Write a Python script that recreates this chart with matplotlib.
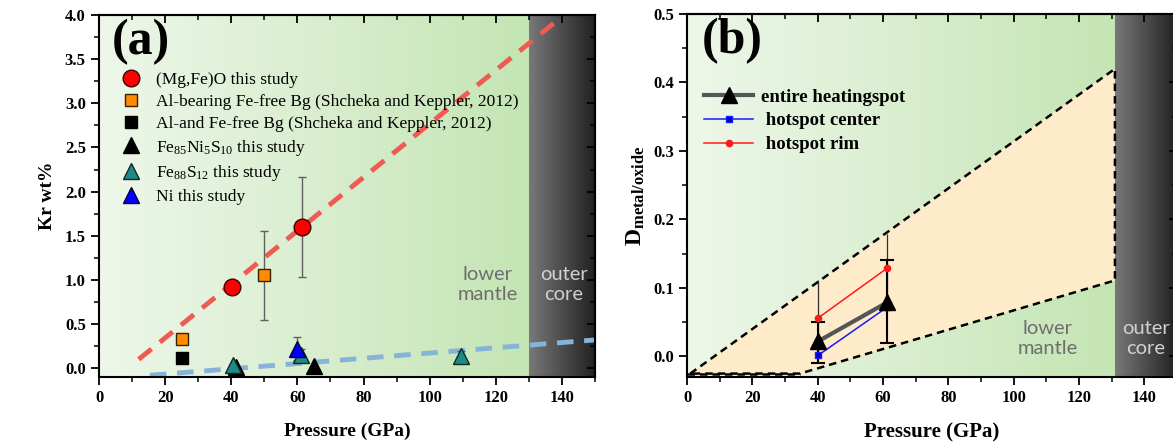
import matplotlib.pyplot as plt
import numpy as np
from matplotlib.lines import Line2D

plt.rcParams['font.family'] = ['Liberation Serif', 'DejaVu Serif']
plt.rcParams['mathtext.fontset'] = 'custom'
plt.rcParams['mathtext.rm'] = 'Liberation Serif'
plt.rcParams['mathtext.it'] = 'Liberation Serif:italic'
plt.rcParams['mathtext.bf'] = 'Liberation Serif:bold'

# ===== panel (a) data =====
mgfeo_p = [40.2, 61.4]
mgfeo_kr = [0.92, 1.60]
mgfeo_err_lo = [0.0, 0.57]
mgfeo_err_hi = [0.0, 0.56]

albg_p = [25, 50]
albg_kr = [0.33, 1.05]
albg_err = [0.0, 0.50]

alfefree_p = [25]
alfefree_kr = [0.11]

fenis_p = [41.4, 65]
fenis_kr = [0.01, 0.02]

fes_p = [40.5, 61, 109.5]
fes_kr = [0.04, 0.15, 0.14]
fes_err = [0.0, 0.07, 0.06]

ni_p = [60]
ni_kr = [0.22]
ni_err = [0.13]

red_fit_p = [12, 138]
red_fit_kr = [0.10, 3.92]
blue_fit_p = [15.4, 150]
blue_fit_kr = [-0.08, 0.32]

# ===== panel (b) data =====
run_p = [40.1, 61.3]
entire_d = [0.022, 0.079]
entire_lo = [0.031, 0.060]
entire_hi = [0.028, 0.062]
center_d = [0.0015, 0.072]
rim_d = [0.056, 0.129]
rim_err = [0.055, 0.050]

band_p = [1, 131, 131, 34.6]
band_d = [-0.025, 0.420, 0.111, -0.025]
band_floor_p = [0, 34.6]
band_floor_d = [-0.025, -0.025]

core_start_a = 130
core_start_b = 131

green_left = np.array([238, 247, 234]) / 255
green_right = np.array([196, 229, 180]) / 255
dark_left = np.array([120, 120, 120]) / 255
dark_right = np.array([32, 32, 32]) / 255


def gradient(ax, x0, x1, y0, y1, c0, c1):
    t = np.linspace(0, 1, 256)
    img = (c0[None, :] * (1 - t[:, None]) + c1[None, :] * t[:, None])[None, :, :]
    ax.imshow(img, extent=[x0, x1, y0, y1], aspect='auto', zorder=0,
              interpolation='bilinear')


def style_axes(ax, xlim, ylim, xmaj, xmin, ymaj, ymin, fmt, xlabsize):
    ax.set_xlim(*xlim)
    ax.set_ylim(*ylim)
    ax.set_xticks(xmaj)
    ax.set_xticks(xmin, minor=True)
    ax.set_yticks(ymaj)
    ax.set_yticks(ymin, minor=True)
    ax.set_yticklabels([fmt.format(v) for v in ymaj])
    for s in ax.spines.values():
        s.set_linewidth(1.5)
    ax.tick_params(which='major', direction='out', length=6, width=1.3,
                   labelsize=12)
    ax.tick_params(which='minor', direction='out', length=3.5, width=1.1)
    for lab in ax.get_xticklabels() + ax.get_yticklabels():
        lab.set_fontweight('bold')
    top = ax.secondary_xaxis('top')
    top.set_xticks(xmaj)
    top.set_xticks(xmin, minor=True)
    top.tick_params(which='major', direction='in', length=6, width=1.3, labeltop=False)
    top.tick_params(which='minor', direction='in', length=3.5, width=1.1)
    right = ax.secondary_yaxis('right')
    right.set_yticks(ymaj)
    right.set_yticks(ymin, minor=True)
    right.tick_params(which='major', direction='in', length=6, width=1.3, labelright=False)
    right.tick_params(which='minor', direction='in', length=3.5, width=1.1)
    for sec in (top, right):
        for s in sec.spines.values():
            s.set_linewidth(1.5)
    ax.set_xlabel('Pressure (GPa)', fontsize=xlabsize, fontweight='bold', labelpad=12)


fig = plt.figure(figsize=(11.73, 4.45), dpi=100)
ax1 = fig.add_axes([99 / 1173, 68 / 445, 496 / 1173, 362 / 445])
ax2 = fig.add_axes([687 / 1173, 68 / 445, 490 / 1173, 363 / 445])

# ===== (a) =====
ya = (-0.1, 4.0)
gradient(ax1, 0, core_start_a, ya[0], ya[1], green_left, green_right)
gradient(ax1, core_start_a, 150, ya[0], ya[1], dark_left, dark_right)

ax1.plot(red_fit_p, red_fit_kr, ls=(0, (3.4, 2.2)), color='#ef5a52', lw=3.5, zorder=2)
ax1.plot(blue_fit_p, blue_fit_kr, ls=(0, (3.4, 2.2)), color='#86b3d8', lw=3.5, zorder=2)

ax1.errorbar(mgfeo_p, mgfeo_kr, yerr=[mgfeo_err_lo, mgfeo_err_hi], fmt='none',
             ecolor='#606060', elinewidth=1, capsize=3, zorder=3)
ax1.errorbar(albg_p, albg_kr, yerr=albg_err, fmt='none',
             ecolor='#606060', elinewidth=1, capsize=3, zorder=3)
ax1.errorbar(fes_p, fes_kr, yerr=fes_err, fmt='none',
             ecolor='#606060', elinewidth=1, capsize=3, zorder=3)
ax1.errorbar(ni_p, ni_kr, yerr=ni_err, fmt='none',
             ecolor='#606060', elinewidth=1, capsize=3, zorder=3)

ax1.plot(mgfeo_p, mgfeo_kr, 'o', ms=12, mfc='#ff0000', mec='#400000', mew=1, zorder=5,
         label='(Mg,Fe)O this study')
ax1.plot(albg_p, albg_kr, 's', ms=8.5, mfc='#ff8c00', mec='#3a2000', mew=1, zorder=5,
         label='Al-bearing Fe-free Bg (Shcheka and Keppler, 2012)')
ax1.plot(alfefree_p, alfefree_kr, 's', ms=8.5, mfc='#000000', mec='#000000', zorder=5,
         label='Al-and Fe-free Bg (Shcheka and Keppler, 2012)')
ax1.plot(fenis_p, fenis_kr, '^', ms=12, mfc='#000000', mec='#000000', zorder=5,
         label=r'Fe$_{85}$Ni$_{5}$S$_{10}$ this study')
ax1.plot(fes_p, fes_kr, '^', ms=12, mfc='#1f8a86', mec='#0a2a28', mew=1, zorder=5,
         label=r'Fe$_{88}$S$_{12}$ this study')
ax1.plot(ni_p, ni_kr, '^', ms=12, mfc='#0000ff', mec='#000040', mew=1, zorder=6,
         label='Ni this study')

ax1.legend(loc='upper left', bbox_to_anchor=(0.015, 0.862), frameon=False,
           fontsize=12.5, handletextpad=0.45, labelspacing=0.33, borderaxespad=0)

ax1.text(0.025, 0.99, '(a)', transform=ax1.transAxes, fontsize=36,
         fontweight='bold', va='top', ha='left')
ax1.text(117.5, 0.95, 'lower\nmantle', ha='center', va='center', fontsize=14.5,
         family='Lato', color='#6e6e6e', linespacing=1.2)
ax1.text(140.5, 0.95, 'outer\ncore', ha='center', va='center', fontsize=14.5,
         family='Lato', color='#d0d0d0', linespacing=1.2)

style_axes(ax1, (0, 150), ya, np.arange(0, 141, 20), np.arange(10, 151, 20),
           np.arange(0, 4.01, 0.5), np.arange(0.25, 4.0, 0.5), '{:.1f}', 14)
ax1.set_ylabel('Kr wt%', fontsize=14, fontweight='bold', labelpad=6)

# ===== (b) =====
yb = (-0.03, 0.5)
gradient(ax2, 0, core_start_b, yb[0], yb[1], green_left, green_right)
gradient(ax2, core_start_b, 150, yb[0], yb[1], dark_left, dark_right)

ax2.fill(band_p, band_d, color='#fdebc9', zorder=1, lw=0)
ax2.plot(band_p + band_p[:1], band_d + band_d[:1], ls=(0, (3, 2)), color='black',
         lw=1.8, zorder=2)
ax2.plot(band_floor_p, band_floor_d, ls=(0, (3, 2)), color='black', lw=1.8, zorder=2)

ax2.errorbar(run_p, rim_d, yerr=rim_err, fmt='none', ecolor='#303030',
             elinewidth=0.9, capsize=0, zorder=3)
ax2.errorbar(run_p, entire_d, yerr=[entire_lo, entire_hi], fmt='none',
             ecolor='black', elinewidth=1.5, capsize=5, capthick=1.5, zorder=3)
ax2.plot(run_p, rim_d, '-o', color='#ff1a1a', lw=1.1, ms=4.5, zorder=4,
         label='hotspot rim')
ax2.plot(run_p, center_d, '-s', color='#1a1aff', mfc='#0000cc', lw=1.1, ms=4.5,
         zorder=4, label='hotspot center')
ax2.plot(run_p, entire_d, '-', color='#555555', lw=3, zorder=4)
ax2.plot(run_p, entire_d, '^', color='black', ms=12, zorder=5)

handles = [
    Line2D([], [], color='#555555', lw=3, marker='^', mfc='black', mec='black', ms=11),
    Line2D([], [], color='#1a1aff', lw=1.1, marker='s', mfc='#0000cc', ms=4.5),
    Line2D([], [], color='#ff1a1a', lw=1.1, marker='o', ms=4.5),
]
labels = ['entire heatingspot', ' hotspot center', ' hotspot rim']
leg = ax2.legend(handles, labels, loc='upper left', bbox_to_anchor=(0.02, 0.815),
                 frameon=False, fontsize=13.5, handlelength=2.6, labelspacing=0.35,
                 borderaxespad=0, handletextpad=0.4)
for t in leg.get_texts():
    t.set_fontweight('bold')

ax2.text(0.03, 0.99, '(b)', transform=ax2.transAxes, fontsize=36,
         fontweight='bold', va='top', ha='left')
ax2.text(110.5, 0.026, 'lower\nmantle', ha='center', va='center', fontsize=14.5,
         family='Lato', color='#6e6e6e', linespacing=1.2)
ax2.text(140.5, 0.026, 'outer\ncore', ha='center', va='center', fontsize=14.5,
         family='Lato', color='#d0d0d0', linespacing=1.2)

style_axes(ax2, (0, 150), yb, np.arange(0, 141, 20), np.arange(10, 151, 20),
           np.arange(0, 0.51, 0.1), np.arange(0.05, 0.5, 0.1), '{:.1f}', 15)
ax2.set_ylabel(r'$\mathbf{D}_{\mathbf{metal/oxide}}$', fontsize=17, labelpad=4)

fig.savefig('out.png', dpi=100)
